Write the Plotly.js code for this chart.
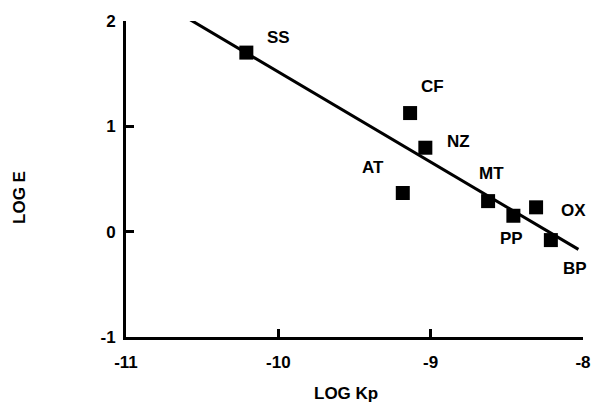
<!DOCTYPE html>
<html>
<head>
<meta charset="utf-8">
<script src="https://cdn.plot.ly/plotly-3.0.1.min.js"></script>
<style>html,body{margin:0;padding:0;background:#fff;}#chart{width:597px;height:404px;}</style>
</head>
<body>
<div id="chart"></div>
<script>
// Data
var labels = ['SS', 'CF', 'NZ', 'AT', 'MT', 'OX', 'PP', 'BP'];
var logKp  = [-10.21, -9.135, -9.035, -9.183, -8.623, -8.308, -8.457, -8.211];
var logE   = [1.70, 1.126, 0.797, 0.367, 0.29, 0.231, 0.151, -0.08];
var fitX   = [-10.60, -8.03];
var fitY   = [2.03, -0.168];
var xTickVals = [-11, -10, -9, -8];
var xTickText = ['-11', '-10', '-9', '-8'];
var yTickVals = [-1, 0, 1, 2];
var yTickText = ['-1', '0', '1', '2'];

// label offsets (pixels) for each point label
var labelDX = [32, 22, 33, -30, 3, 37, -2, 24];
var labelDY = [-15, -27, -6, -26, -28, 3, 23, 28];

var F = {family: 'Liberation Sans, Arial, sans-serif', size: 17, color: '#000', weight: 700};
var b = function (s) { return '<b>' + s + '</b>'; };

var annotations = labels.map(function (t, i) {
  return {x: logKp[i], y: logE[i], xref: 'x', yref: 'y', text: b(t), showarrow: false,
          xshift: labelDX[i], yshift: -labelDY[i], font: F};
});
annotations.push({text: b('LOG Kp'), xref: 'paper', yref: 'paper', x: 0.482, y: 0, yshift: -56,
  showarrow: false, font: F, xanchor: 'center', yanchor: 'middle'});
annotations.push({text: b('LOG E'), xref: 'paper', yref: 'paper', x: 0, y: 0.44, xshift: -106,
  showarrow: false, font: F, textangle: -90, xanchor: 'center', yanchor: 'middle'});

var traces = [
  {x: fitX, y: fitY, mode: 'lines', line: {color: '#000', width: 3}, hoverinfo: 'skip'},
  {x: logKp, y: logE, mode: 'markers', marker: {symbol: 'square', size: 14, color: '#000'}, cliponaxis: false}
];

var axisCommon = {showline: true, linecolor: '#000', linewidth: 3, ticks: 'inside', ticklen: 8,
  tickwidth: 3, tickcolor: '#000', showgrid: false, zeroline: false, mirror: false,
  tickfont: F, tickmode: 'array', fixedrange: true};

var layout = {
  width: 597, height: 404, showlegend: false,
  margin: {l: 126, r: 14, t: 21, b: 67},
  paper_bgcolor: '#fff', plot_bgcolor: '#fff',
  annotations: annotations
};
layout.xaxis = Object.assign({}, axisCommon, {range: [-11, -8], tickvals: xTickVals,
  ticktext: xTickText.map(b), ticklabelstandoff: 8});
layout.yaxis = Object.assign({}, axisCommon, {range: [-1, 2], tickvals: yTickVals,
  ticktext: yTickText.map(b), ticklabelstandoff: 4});

Plotly.newPlot('chart', traces, layout, {staticPlot: true});
</script>
</body>
</html>
